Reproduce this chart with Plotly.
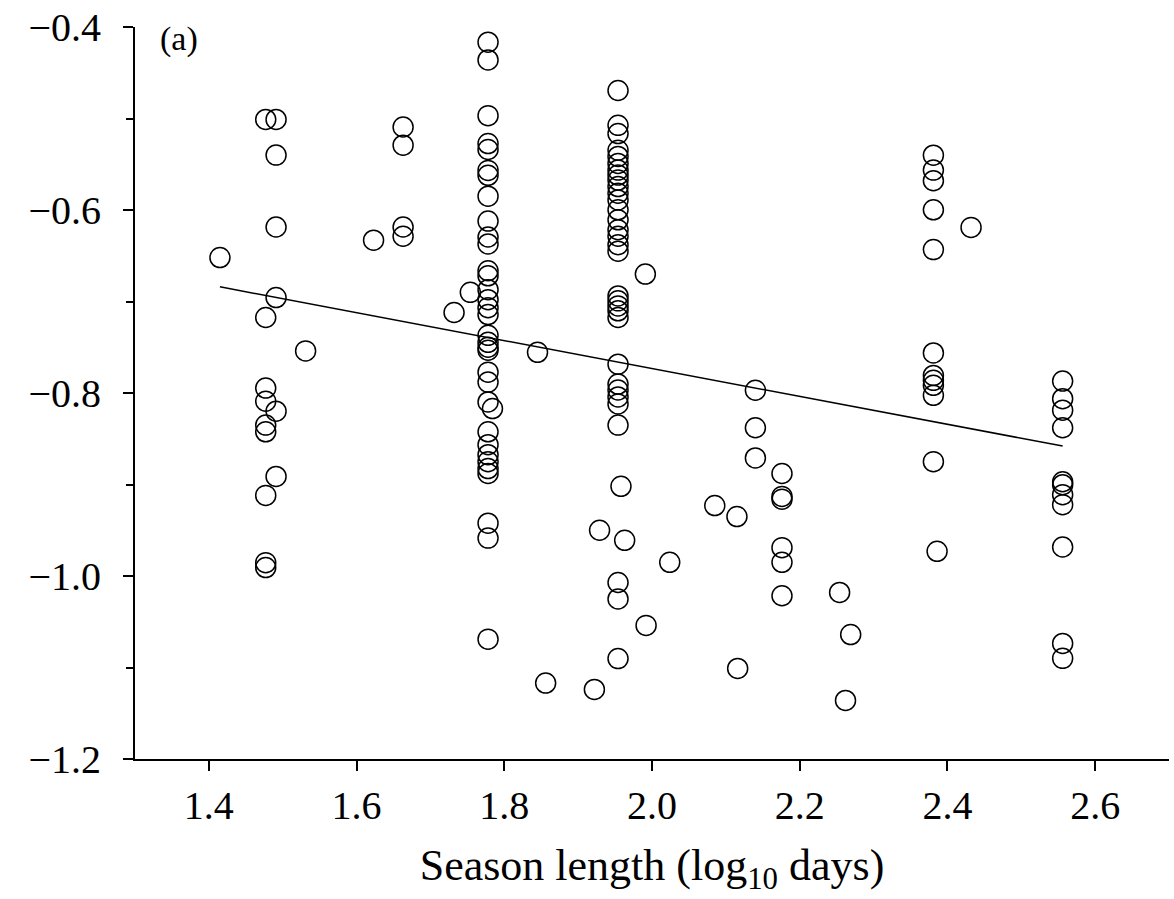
import plotly.graph_objects as go

# Season length (log10 days) groups and their response values
x_1477 = 1.477
y_1477 = [-0.501, -0.7175, -0.7946, -0.809, -0.8351, -0.8424, -0.9119, -0.9854, -0.9908]

x_1491 = 1.491
y_1491 = [-0.501, -0.540, -0.6186, -0.6957, -0.8199, -0.8912]

x_1663 = 1.663
y_1663 = [-0.5093, -0.5292, -0.6186, -0.6287]

x_1778 = 1.778
y_1778 = [-0.4166, -0.4360, -0.4969, -0.5274, -0.5339, -0.5567, -0.5621, -0.5849,
          -0.6121, -0.6295, -0.6371, -0.6664, -0.6719, -0.6871, -0.6980, -0.7067,
          -0.7143, -0.7370, -0.7446, -0.7500, -0.7533, -0.7772, -0.7881, -0.8098,
          -0.8424, -0.8565, -0.8674, -0.8750, -0.8826, -0.8880, -0.9423, -0.9586,
          -1.0690]

x_1954 = 1.954
y_1954 = [-0.4694, -0.5075, -0.5165, -0.5347, -0.5415, -0.5491, -0.5564, -0.5618,
          -0.5673, -0.5744, -0.5817, -0.5890, -0.5998, -0.6107, -0.6216, -0.6287,
          -0.6379, -0.6450, -0.6939, -0.6993, -0.7048, -0.7102, -0.7175, -0.7685,
          -0.7902, -0.7967, -0.8043, -0.8119, -0.8351, -1.0071, -1.0251, -1.0903]

x_2140 = 2.140
y_2140 = [-0.797, -0.838, -0.871]

x_2176 = 2.176
y_2176 = [-0.888, -0.913, -0.916, -0.969, -0.985, -1.0216]

x_2381 = 2.381
y_2381 = [-0.5401, -0.5564, -0.5680, -0.5998, -0.6433, -0.7562, -0.7808, -0.7862,
          -0.7916, -0.8025, -0.8750]

x_2556 = 2.556
y_2556 = [-0.787, -0.8062, -0.8188, -0.838, -0.8970, -0.9002, -0.9111, -0.9220,
          -0.9683, -1.0737, -1.0900]

# Isolated observations
single_x = [1.415, 1.531, 1.623, 1.732, 1.754, 1.784, 1.845, 1.856, 1.922, 1.929,
            1.958, 1.963, 1.991, 1.992, 2.024, 2.085, 2.115, 2.116, 2.254, 2.262,
            2.269, 2.386, 2.432]
single_y = [-0.652, -0.754, -0.633, -0.712, -0.690, -0.817, -0.7555, -1.117, -1.124, -0.950,
            -0.902, -0.961, -0.670, -1.054, -0.985, -0.923, -0.935, -1.101, -1.018, -1.136,
            -1.064, -0.973, -0.619]

# Fitted regression line endpoints
fit_x = [1.415, 2.556]
fit_y = [-0.684, -0.858]

x_ticks = [1.4, 1.6, 1.8, 2.0, 2.2, 2.4, 2.6]
y_ticks = [-1.2, -1.0, -0.8, -0.6, -0.4]

groups = [(x_1477, y_1477), (x_1491, y_1491), (x_1663, y_1663), (x_1778, y_1778),
          (x_1954, y_1954), (x_2140, y_2140), (x_2176, y_2176), (x_2381, y_2381),
          (x_2556, y_2556)]

xs, ys = [], []
for gx, gy in groups:
    xs += [gx] * len(gy)
    ys += gy
xs += single_x
ys += single_y

serif = "Liberation Serif, Times New Roman, serif"

fig = go.Figure()
fig.add_trace(go.Scatter(
    x=fit_x, y=fit_y, mode="lines",
    line=dict(color="black", width=1.5),
    showlegend=False, hoverinfo="skip",
))
fig.add_trace(go.Scatter(
    x=xs, y=ys, mode="markers",
    marker=dict(symbol="circle-open", size=20, color="black",
                line=dict(color="black", width=1.5)),
    showlegend=False,
))

fig.add_annotation(
    text="(a)", xref="paper", yref="paper", x=0.022, y=1.012,
    xanchor="left", yanchor="top", showarrow=False,
    font=dict(family=serif, size=34, color="black"),
)

fig.update_layout(
    width=1174, height=899,
    margin=dict(l=135, r=5, t=23, b=140),
    paper_bgcolor="white", plot_bgcolor="white",
    font=dict(family=serif, color="black"),
    xaxis=dict(
        range=[1.3, 2.7], tickvals=x_ticks, tickformat=".1f",
        ticks="outside", ticklen=10, tickwidth=1.5, tickcolor="black",
        showline=True, linecolor="black", linewidth=1.8,
        showgrid=False, zeroline=False,
        tickfont=dict(family=serif, size=40, color="black"),
        title=dict(text="Season length (log<sub>10</sub> days)",
                   font=dict(family=serif, size=44, color="black"), standoff=22),
    ),
    yaxis=dict(
        range=[-1.2, -0.4], tickvals=y_ticks, tickformat=".1f",
        ticks="outside", ticklen=10, tickwidth=1.5, tickcolor="black",
        minor=dict(dtick=0.1, tick0=-1.2, ticks="outside", ticklen=7,
                   tickwidth=1.5, tickcolor="black", showgrid=False),
        showline=True, linecolor="black", linewidth=1.8,
        showgrid=False, zeroline=False,
        tickfont=dict(family=serif, size=40, color="black"),
        ticklabelstandoff=14,
    ),
)

fig.write_html("out.html")
